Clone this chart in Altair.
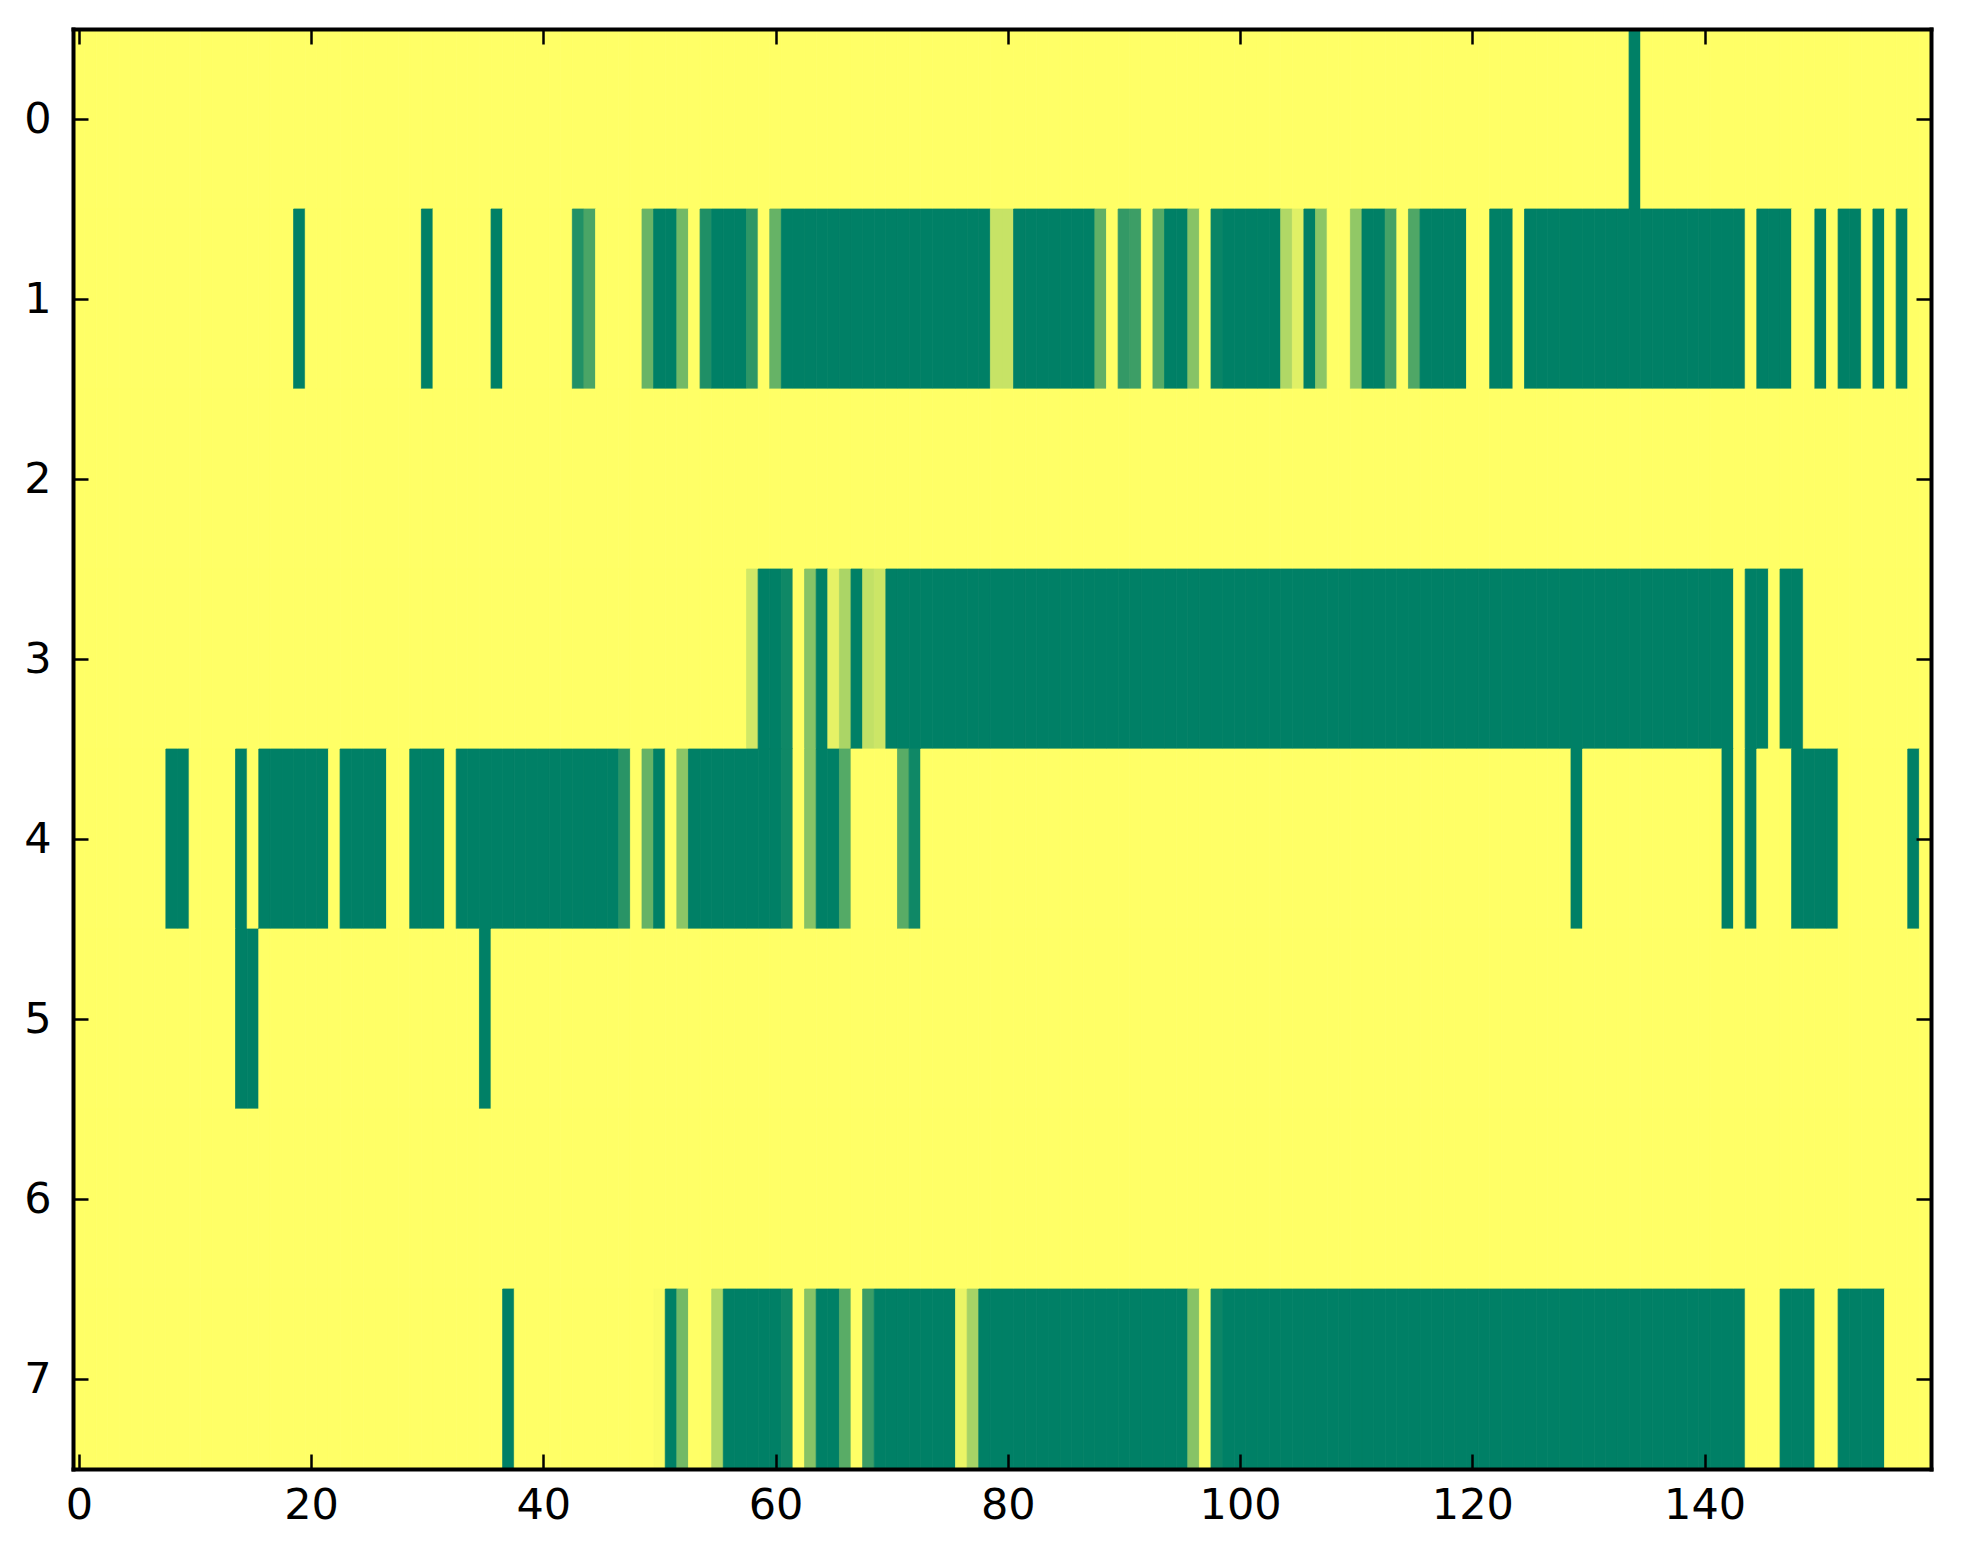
import altair as alt
import pandas as pd

N_COLS = 160
N_ROWS = 8

# Non-zero cells per row as (first column, last column, value) runs
ROW0 = [(134, 134, 1.0)]
ROW1 = [(19, 19, 1.0), (30, 30, 1.0), (36, 36, 1.0), (43, 43, 0.87), (44, 44, 0.71),
        (49, 49, 0.59), (50, 51, 1.0), (52, 52, 0.55), (54, 54, 0.88), (55, 57, 1.0),
        (58, 58, 0.82), (60, 60, 0.6), (61, 78, 1.0), (79, 80, 0.22), (81, 87, 1.0),
        (88, 88, 0.62), (90, 90, 0.8), (91, 91, 0.76), (93, 93, 0.66), (94, 95, 1.0),
        (96, 96, 0.47), (98, 98, 0.96), (99, 103, 1.0), (104, 104, 0.31), (105, 105, 0.12),
        (106, 106, 1.0), (107, 107, 0.45), (110, 110, 0.43), (111, 112, 1.0), (113, 113, 0.73),
        (115, 115, 0.69), (116, 119, 1.0), (122, 123, 1.0), (125, 143, 1.0), (145, 147, 1.0),
        (150, 150, 1.0), (152, 153, 1.0), (155, 155, 1.0), (157, 157, 1.0)]
ROW2 = []
ROW3 = [(58, 58, 0.18), (59, 60, 1.0), (61, 61, 0.94), (63, 63, 0.47), (64, 64, 1.0),
        (65, 65, 0.1), (66, 66, 0.33), (67, 67, 1.0), (68, 68, 0.24), (69, 69, 0.2),
        (70, 142, 1.0), (144, 145, 1.0), (147, 148, 1.0)]
ROW4 = [(8, 9, 1.0), (14, 14, 1.0), (16, 21, 1.0), (23, 26, 1.0), (29, 31, 1.0),
        (33, 46, 1.0), (47, 47, 0.84), (49, 49, 0.6), (50, 50, 1.0), (52, 52, 0.45),
        (53, 60, 1.0), (61, 61, 0.94), (63, 63, 0.47), (64, 65, 1.0), (66, 66, 0.67),
        (71, 71, 0.65), (72, 72, 0.94), (129, 129, 1.0), (142, 142, 1.0), (144, 144, 1.0),
        (148, 151, 1.0), (158, 158, 1.0)]
ROW5 = [(14, 15, 1.0), (35, 35, 1.0)]
ROW6 = []
ROW7 = [(37, 37, 1.0), (50, 50, 0.02), (51, 51, 1.0), (52, 52, 0.55), (55, 55, 0.31),
        (56, 60, 1.0), (61, 61, 0.94), (63, 63, 0.47), (64, 65, 1.0), (66, 66, 0.65),
        (68, 68, 0.77), (69, 75, 1.0), (76, 76, 0.08), (77, 77, 0.35), (78, 95, 1.0),
        (96, 96, 0.47), (98, 98, 0.95), (99, 143, 1.0), (147, 149, 1.0), (152, 155, 1.0)]

ROWS = [ROW0, ROW1, ROW2, ROW3, ROW4, ROW5, ROW6, ROW7]
X_TICKS = [0, 20, 40, 60, 80, 100, 120, 140]
Y_TICKS = [0, 1, 2, 3, 4, 5, 6, 7]

records = []
for r, runs in enumerate(ROWS):
    vals = [0.0] * N_COLS
    for a, b, v in runs:
        for c in range(a, b + 1):
            vals[c] = v
    for c, v in enumerate(vals):
        records.append({"row": r, "col": c, "x0": c - 0.5, "x1": c + 0.5,
                        "y0": r - 0.5, "y1": r + 0.5, "value": v})
df = pd.DataFrame(records)
dummy = pd.DataFrame({"x": [0.0], "y": [0.0]})

xscale = alt.Scale(domain=[-0.5, N_COLS - 0.5], nice=False, zero=False)
yscale = alt.Scale(domain=[-0.5, N_ROWS - 0.5], nice=False, zero=False, reverse=True)
cscale = alt.Scale(domain=[0, 1], range=["#ffff66", "#008066"], interpolate="rgb")

FONT = "DejaVu Sans"
FS = 43

tick_common = dict(title=None, domain=False, ticks=True, tickSize=15, tickWidth=2.5,
                   tickColor="black", offset=-15, zindex=1, grid=False)

heat = alt.Chart(df).mark_rect(strokeWidth=0.8).encode(
    x=alt.X("x0:Q", scale=xscale,
            axis=alt.Axis(values=X_TICKS, labels=True, labelFont=FONT, labelFontSize=FS,
                          labelColor="black", labelPadding=15, orient="bottom", **tick_common)),
    x2="x1:Q",
    y=alt.Y("y0:Q", scale=yscale,
            axis=alt.Axis(values=Y_TICKS, labels=True, labelFont=FONT, labelFontSize=FS,
                          labelColor="black", labelPadding=22, orient="left", **tick_common)),
    y2="y1:Q",
    color=alt.Color("value:Q", scale=cscale, legend=None),
    stroke=alt.Stroke("value:Q", scale=cscale, legend=None),
)

ticks_tr = alt.Chart(dummy).mark_point(opacity=0).encode(
    x=alt.X("x:Q", scale=xscale,
            axis=alt.Axis(values=X_TICKS, labels=False, orient="top", **tick_common)),
    y=alt.Y("y:Q", scale=yscale,
            axis=alt.Axis(values=Y_TICKS, labels=False, orient="right", **tick_common)),
)

frame_common = dict(title=None, domain=True, domainColor="black", domainWidth=4,
                    domainCap="square", ticks=False, labels=False, grid=False, zindex=2)

frame_bl = alt.Chart(dummy).mark_point(opacity=0).encode(
    x=alt.X("x:Q", scale=xscale, axis=alt.Axis(orient="bottom", **frame_common)),
    y=alt.Y("y:Q", scale=yscale, axis=alt.Axis(orient="left", **frame_common)),
)
frame_tr = alt.Chart(dummy).mark_point(opacity=0).encode(
    x=alt.X("x:Q", scale=xscale, axis=alt.Axis(orient="top", **frame_common)),
    y=alt.Y("y:Q", scale=yscale, axis=alt.Axis(orient="right", **frame_common)),
)

chart = alt.layer(heat, ticks_tr, frame_bl, frame_tr).resolve_axis(
    x="independent", y="independent"
).properties(
    width=1858, height=1440,
    padding={"left": 65, "top": 21, "right": 20, "bottom": 80},
    autosize="none",
    background="white",
).configure_view(stroke=None)

chart.save("out.html", embed_options={"renderer": "svg", "actions": False})
